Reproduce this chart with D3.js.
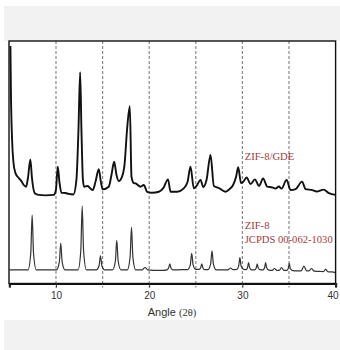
<!DOCTYPE html>
<html lang="en">
<head>
    <meta charset="UTF-8">
    <title>XRD pattern</title>
    <script src="https://d3js.org/d3.v7.min.js"></script>
    <style>
        body { margin: 0; background: #ffffff; }
        svg { display: block; }
        .tick-label { font-family: 'Liberation Sans', Arial, sans-serif; font-size: 10px; fill: #333; }
        .series-label { font-family: 'Liberation Serif', 'Times New Roman', serif; font-size: 10.6px; fill: #a23b38; }
    </style>
</head>
<body>
<div id="chart"></div>
<script>
    // Angle values (2 theta) with intensity (a.u.)
    const gdeAngle = [5.11, 5.16, 5.29, 5.43, 5.64, 6.00, 6.29, 6.54, 6.79, 6.99, 7.25, 7.42, 7.72, 8.15, 8.87, 9.76, 9.99, 10.19, 10.37, 10.58,
        11.01, 11.37, 11.87, 12.19, 12.41, 12.59, 12.73, 12.89, 13.02, 13.37, 13.94, 14.23, 14.59, 14.82, 15.02, 15.66, 15.95, 16.24, 16.49, 16.74,
        17.03, 17.35, 17.62, 17.92, 18.10, 18.35, 18.53, 19.07, 19.42, 19.78, 20.32, 21.03, 21.53, 22.02, 22.29, 23.00, 23.71, 24.11, 24.43, 24.79,
        25.08, 25.51, 25.80, 26.15, 26.58, 26.94, 27.44, 28.19, 28.62, 29.00, 29.32, 29.55, 29.85, 30.07, 30.45, 30.88, 31.34, 31.79, 32.22, 32.67,
        33.20, 33.56, 33.91, 34.20, 34.74, 35.17, 35.71, 36.40, 36.78, 37.50, 37.96, 38.71, 39.28, 40.00];
    const gdeIntensity = [97.9, 79.8, 59.1, 50.0, 45.5, 43.4, 42.1, 40.5, 39.8, 43.4, 51.1, 43.4, 37.1, 36.4, 36.2, 36.4, 38.4, 48.1, 41.7, 37.3,
        37.2, 36.8, 36.6, 42.6, 63.2, 87.1, 63.2, 42.6, 39.8, 40.1, 38.4, 41.7, 47.0, 41.7, 38.7, 39.8, 44.6, 50.1, 44.6, 42.1,
        43.4, 48.8, 63.2, 73.1, 43.9, 41.3, 41.2, 39.8, 40.5, 37.7, 37.3, 37.7, 39.3, 42.8, 37.7, 37.7, 39.1, 41.7, 48.1, 39.1,
        40.1, 42.6, 39.7, 42.6, 52.9, 40.1, 39.3, 37.7, 38.8, 40.5, 43.8, 47.8, 41.3, 41.7, 43.6, 40.9, 42.8, 40.1, 43.2, 39.8,
        39.5, 39.0, 39.9, 39.0, 42.6, 38.4, 38.8, 41.9, 38.8, 38.4, 37.8, 38.6, 37.1, 36.4];

    const refAngle = [5.0, 6.99, 7.29, 7.44, 7.59, 7.89, 10.06, 10.36, 10.51, 10.66, 10.96, 12.36, 12.66, 12.81, 12.96, 13.26,
        14.32, 14.62, 14.77, 14.92, 15.22, 16.07, 16.37, 16.52, 16.67, 16.97, 17.65, 17.95, 18.10, 18.25, 18.55,
        19.25, 19.55, 19.85, 20.5, 21.5, 21.9, 22.08, 22.21, 22.34, 22.55, 23.5, 24.11, 24.41, 24.56, 24.71, 25.0,
        25.35, 25.52, 25.64, 25.76, 25.95, 26.29, 26.59, 26.74, 26.89, 27.19, 28.0, 28.45, 28.73, 29.0,
        29.4, 29.6, 29.73, 29.86, 30.15, 30.4, 30.55, 30.66, 30.77, 31.0, 31.3, 31.48, 31.59, 31.7, 31.95,
        32.2, 32.38, 32.49, 32.6, 32.85, 33.2, 33.45, 33.7, 33.95, 34.2, 34.45, 34.75, 34.92, 35.03, 35.14, 35.4,
        36.0, 36.3, 36.6, 36.9, 37.15, 37.42, 37.7, 38.3, 38.7, 38.93, 39.2, 39.6, 40.0];
    const refIntensity = [5.4, 5.4, 12.2, 28.1, 12.2, 5.4, 5.4, 8.7, 16.5, 8.7, 5.4, 5.4, 13.3, 31.8, 13.3, 5.4,
        5.4, 7.1, 11.2, 7.1, 5.4, 5.4, 9.1, 17.6, 9.1, 5.4, 5.4, 10.7, 23.0, 10.7, 5.4,
        5.4, 6.4, 5.4, 5.2, 5.2, 5.4, 6.2, 7.9, 6.2, 5.4, 5.5, 5.5, 7.5, 12.3, 7.5, 5.6,
        5.6, 6.3, 7.9, 6.3, 5.5, 5.5, 7.8, 13.3, 7.8, 5.4, 5.4, 5.4, 6.2, 5.5,
        5.6, 7.0, 10.5, 7.0, 5.6, 5.5, 6.4, 8.4, 6.4, 5.4, 5.4, 6.2, 7.9, 6.2, 5.4,
        5.4, 6.3, 8.4, 6.3, 5.3, 5.2, 6.0, 5.2, 5.2, 6.4, 5.2, 5.2, 6.0, 8.1, 6.0, 5.1,
        5.0, 5.0, 7.0, 5.0, 5.0, 6.0, 4.9, 4.8, 4.7, 5.6, 4.6, 4.6, 4.3];

    const xTicks = [10, 20, 30, 40];
    const smallTicks = [5];
    const gridAngles = [10, 15, 20, 25, 30, 35];
    const seriesLabels = [
        { lines: ["ZIF-8/GDE"], angle: 30.25, value: 50.8 },
        { lines: ["ZIF-8", "JCPDS 00-062-1030"], angle: 30.25, value: 22.3 }
    ];

    const width = 340, height = 350;
    const frame = { left: 9, right: 335.6, top: 41, bottom: 283.5 };

    const svg = d3.select("#chart").append("svg")
        .attr("width", width).attr("height", height);

    // grey bands above and below the plot
    svg.append("rect").attr("x", 4).attr("y", 6).attr("width", 336).attr("height", 35).attr("fill", "#f2f2f2");
    svg.append("rect").attr("x", 4).attr("y", 320).attr("width", 336).attr("height", 30).attr("fill", "#f2f2f2");
    svg.append("rect").attr("x", frame.left).attr("y", frame.top)
        .attr("width", frame.right - frame.left).attr("height", frame.bottom - frame.top).attr("fill", "#fff");

    const x = d3.scaleLinear().domain([5, 40]).range([9.4, 335.6]);
    const y = d3.scaleLinear().domain([0, 100]).range([283, 41]);

    // dashed guide lines
    svg.append("g").selectAll("line")
        .data(gridAngles)
        .enter().append("line")
        .attr("x1", d => x(d)).attr("x2", d => x(d))
        .attr("y1", frame.top).attr("y2", frame.bottom + 4)
        .attr("stroke", "#8a8a8a").attr("stroke-width", 1.2)
        .attr("stroke-dasharray", "3,2");

    svg.append("clipPath").attr("id", "clip")
        .append("rect").attr("x", frame.left).attr("y", frame.top)
        .attr("width", frame.right - frame.left).attr("height", frame.bottom - frame.top);

    const line = d3.line().x(d => x(d[0])).y(d => y(d[1])).curve(d3.curveMonotoneX);

    svg.append("path")
        .datum(refAngle.map((a, i) => [a, refIntensity[i]]))
        .attr("clip-path", "url(#clip)")
        .attr("d", line)
        .attr("fill", "none").attr("stroke", "#333").attr("stroke-width", 1.2);

    svg.append("path")
        .datum(gdeAngle.map((a, i) => [a, gdeIntensity[i]]))
        .attr("clip-path", "url(#clip)")
        .attr("d", line)
        .attr("fill", "none").attr("stroke", "#111").attr("stroke-width", 1.9)
        .attr("stroke-linejoin", "round");

    // frame
    svg.append("rect").attr("x", frame.left).attr("y", frame.top)
        .attr("width", frame.right - frame.left).attr("height", frame.bottom - frame.top)
        .attr("fill", "none").attr("stroke", "#111").attr("stroke-width", 1.4);

    // bottom axis
    const xAxis = d3.axisBottom(x).tickValues(xTicks.concat(smallTicks)).tickSize(4)
        .tickFormat(d => xTicks.includes(d) ? d : "");
    const axisG = svg.append("g").attr("transform", `translate(0,${frame.bottom})`).call(xAxis);
    axisG.select(".domain").attr("stroke", "#111").attr("stroke-width", 2.2);
    axisG.selectAll(".tick line").attr("stroke", "#333");
    axisG.selectAll(".tick text").attr("class", "tick-label").attr("dy", "0.9em").attr("y", 6)
        .attr("dx", d => d === 40 ? -3 : 0);

    const title = svg.append("text")
        .attr("x", 172).attr("y", 316)
        .attr("text-anchor", "middle")
        .attr("font-family", "'Liberation Sans', Arial, sans-serif")
        .attr("font-size", 11).attr("fill", "#333");
    title.append("tspan").text("Angle ");
    title.append("tspan").attr("font-family", "'Liberation Serif', serif").attr("font-size", 10.5).text("(2θ)");

    // series labels
    seriesLabels.forEach(l => {
        const t = svg.append("text").attr("class", "series-label")
            .attr("x", x(l.angle)).attr("y", y(l.value));
        l.lines.forEach((s, i) => {
            t.append("tspan").attr("x", x(l.angle)).attr("dy", i === 0 ? 0 : 13.5).text(s);
        });
    });
</script>
</body>
</html>
